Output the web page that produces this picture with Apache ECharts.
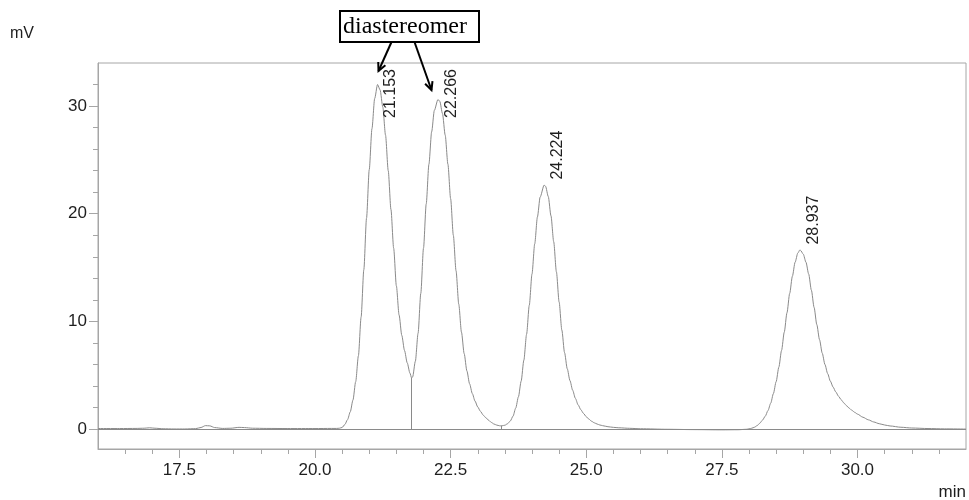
<!DOCTYPE html>
<html>
<head>
<meta charset="utf-8">
<script src="https://cdn.jsdelivr.net/npm/echarts@6/dist/echarts.min.js"></script>
<style>
  html, body { margin: 0; padding: 0; background: #fff; }
  #chart { width: 969px; height: 500px; }
</style>
</head>
<body>
<div id="chart"></div>
<script>
// Detector trace: retention time (min) and signal (mV)
const retentionTime = [
  16.00, 16.40, 16.70, 16.85, 16.95, 17.05, 17.20, 17.40, 17.60, 17.80,
  17.90, 17.98, 18.06, 18.15, 18.30, 18.45, 18.60, 18.70, 18.85, 19.10,
  19.50, 20.00, 20.30, 20.40, 20.45, 20.50, 20.55, 20.60, 20.65, 20.70,
  20.75, 20.80, 20.85, 20.90, 20.95, 21.00, 21.05, 21.10, 21.153, 21.20,
  21.25, 21.30, 21.35, 21.40, 21.45, 21.50, 21.55, 21.60, 21.65, 21.70,
  21.75, 21.78, 21.80, 21.85, 21.90, 21.95, 22.00, 22.05, 22.10, 22.15,
  22.20, 22.266, 22.30, 22.35, 22.40, 22.45, 22.50, 22.55, 22.60, 22.65,
  22.70, 22.75, 22.80, 22.85, 22.90, 22.95, 23.00, 23.05, 23.10, 23.15,
  23.20, 23.25, 23.30, 23.35, 23.40, 23.43, 23.45, 23.50, 23.55, 23.60,
  23.65, 23.70, 23.75, 23.80, 23.85, 23.90, 23.95, 24.00, 24.05, 24.10,
  24.15, 24.224, 24.25, 24.30, 24.35, 24.40, 24.45, 24.50, 24.55, 24.60,
  24.65, 24.70, 24.75, 24.80, 24.85, 24.90, 24.95, 25.00, 25.05, 25.10,
  25.15, 25.20, 25.25, 25.30, 25.40, 25.50, 25.60, 25.80, 26.00, 26.50,
  27.00, 27.50, 27.80, 27.95, 28.00, 28.05, 28.10, 28.15, 28.20, 28.25,
  28.30, 28.35, 28.40, 28.45, 28.50, 28.55, 28.60, 28.65, 28.70, 28.75,
  28.80, 28.85, 28.90, 28.937, 28.95, 29.00, 29.05, 29.10, 29.15, 29.20,
  29.25, 29.30, 29.35, 29.40, 29.45, 29.50, 29.55, 29.60, 29.65, 29.70,
  29.75, 29.80, 29.85, 29.90, 29.95, 30.00, 30.10, 30.20, 30.30, 30.40,
  30.50, 30.60, 30.80, 31.00, 31.30, 31.60, 32.00
];
const signal = [
  0.05, 0.05, 0.06, 0.08, 0.12, 0.08, 0.03, 0.01, 0.01, 0.04,
  0.15, 0.32, 0.30, 0.14, 0.06, 0.08, 0.16, 0.14, 0.08, 0.06,
  0.05, 0.05, 0.06, 0.06, 0.08, 0.15, 0.42, 0.88, 1.60, 2.70,
  4.40, 6.80, 10.4, 14.8, 19.6, 24.1, 27.9, 30.7, 32.0, 31.5,
  29.9, 27.3, 24.0, 20.4, 16.8, 13.3, 10.6, 8.7, 7.3, 6.15,
  5.2, 4.75, 4.85, 6.3, 8.9, 12.6, 16.8, 20.9, 24.6, 27.6,
  29.6, 30.6, 30.45, 29.3, 27.3, 24.6, 21.4, 18.0, 14.7, 11.6,
  9.0, 7.0, 5.4, 4.2, 3.3, 2.6, 2.05, 1.65, 1.3, 1.05,
  0.82, 0.62, 0.47, 0.37, 0.31, 0.30, 0.31, 0.36, 0.50, 0.75,
  1.20, 1.95, 3.0, 4.45, 6.4, 8.8, 11.5, 14.4, 17.2, 19.7,
  21.55, 22.66, 22.55, 21.6, 19.8, 17.4, 14.6, 11.8, 9.2, 7.1,
  5.6, 4.5, 3.6, 2.85, 2.25, 1.8, 1.45, 1.15, 0.92, 0.72,
  0.58, 0.47, 0.38, 0.32, 0.22, 0.16, 0.12, 0.07, 0.03, -0.02,
  -0.05, -0.07, -0.06, -0.02, 0.02, 0.08, 0.17, 0.32, 0.55, 0.84,
  1.20, 1.72, 2.40, 3.30, 4.40, 5.75, 7.30, 9.00, 10.8, 12.6,
  14.2, 15.5, 16.35, 16.63, 16.6, 16.25, 15.5, 14.4, 12.9, 11.3,
  9.7, 8.3, 7.05, 6.0, 5.15, 4.45, 3.9, 3.45, 3.05, 2.72,
  2.42, 2.16, 1.93, 1.73, 1.55, 1.39, 1.10, 0.86, 0.66, 0.50,
  0.38, 0.29, 0.17, 0.10, 0.05, 0.02, 0.0
];

// Integrated peaks: retention time and apex height
const peakTimes = [21.153, 22.266, 24.224, 28.937];
const peakHeights = [32.0, 30.6, 22.66, 16.63];

// Perpendicular drop lines separating the integrated peaks
const dropTimes = [21.78, 23.43];
const dropHeights = [4.75, 0.30];

// Axis ticks
const xTickValues = [17.5, 20.0, 22.5, 25.0, 27.5, 30.0];
const yTickValues = [0, 10, 20, 30];

const X_MIN = 16, X_MAX = 32, Y_MIN = -1.85, Y_MAX = 34;
const AXIS_GRAY = '#a6a6a6';
const TRACE_GRAY = '#8a8a8a';
const TEXT = '#1e1e1e';
const SANS = '"Liberation Sans", Arial, sans-serif';

const xMinor = [];
for (let v = X_MIN + 0.5; v < X_MAX; v += 0.5) {
  if (!xTickValues.some(t => Math.abs(t - v) < 1e-6)) xMinor.push(+v.toFixed(1));
}
const yMinor = [];
for (let v = 2; v < Y_MAX; v += 2) {
  if (!yTickValues.includes(v)) yMinor.push(v);
}

const chart = echarts.init(document.getElementById('chart'), null, { renderer: 'canvas' });

const trace = retentionTime.map((t, i) => [t, signal[i]]);
const dropLines = dropTimes.map((t, i) => [{ coord: [t, 0] }, { coord: [t, dropHeights[i]] }]);

chart.setOption({
  animation: false,
  backgroundColor: '#fff',
  grid: {
    left: 98, right: 3, top: 63, bottom: 51,
    show: true, borderColor: AXIS_GRAY, borderWidth: 1
  },
  xAxis: [
    {
      type: 'value', min: X_MIN, max: X_MAX,
      axisLine: { show: true, onZero: false, lineStyle: { color: AXIS_GRAY, width: 1 } },
      axisTick: { show: true, length: 9, customValues: xTickValues, lineStyle: { color: AXIS_GRAY } },
      axisLabel: {
        show: true, customValues: xTickValues, margin: 13,
        color: TEXT, fontSize: 17, fontFamily: SANS,
        formatter: v => v.toFixed(1)
      },
      splitLine: { show: false }
    },
    {
      type: 'value', min: X_MIN, max: X_MAX, position: 'bottom',
      axisLine: { show: false, onZero: false },
      axisTick: { show: true, length: 5, customValues: xMinor, lineStyle: { color: AXIS_GRAY } },
      axisLabel: { show: false },
      splitLine: { show: false }
    }
  ],
  yAxis: [
    {
      type: 'value', min: Y_MIN, max: Y_MAX,
      axisLine: { show: true, onZero: false, lineStyle: { color: AXIS_GRAY, width: 1 } },
      axisTick: { show: true, length: 9, customValues: yTickValues, lineStyle: { color: AXIS_GRAY } },
      axisLabel: {
        show: true, customValues: yTickValues, margin: 11,
        color: TEXT, fontSize: 17, fontFamily: SANS
      },
      splitLine: { show: false }
    },
    {
      type: 'value', min: Y_MIN, max: Y_MAX, position: 'left',
      axisLine: { show: false, onZero: false },
      axisTick: { show: true, length: 5, customValues: yMinor, lineStyle: { color: AXIS_GRAY } },
      axisLabel: { show: false },
      splitLine: { show: false }
    }
  ],
  series: [
    {
      type: 'line',
      xAxisIndex: 0, yAxisIndex: 0,
      data: trace,
      showSymbol: false,
      smooth: 0.25,
      smoothMonotone: 'x',
      lineStyle: { color: TRACE_GRAY, width: 1 },
      z: 3,
      markLine: {
        silent: true,
        symbol: 'none',
        label: { show: false },
        lineStyle: { color: TRACE_GRAY, width: 1, type: 'solid' },
        data: [{ yAxis: 0 }].concat(dropLines)
      }
    }
  ]
});

// Peak retention-time labels, rotated, kept inside the plot frame
const ctx = document.createElement('canvas').getContext('2d');
ctx.font = '16px ' + SANS;
const gridTop = 63;
const graphics = [];
peakTimes.forEach((t, i) => {
  const p = chart.convertToPixel({ xAxisIndex: 0, yAxisIndex: 0 }, [t, peakHeights[i]]);
  const txt = t.toFixed(3);
  const len = ctx.measureText(txt).width;
  let start = p[1] - 5.5;
  if (start - len < gridTop + 6) start = gridTop + 6 + len;
  graphics.push({
    type: 'text',
    x: p[0] + 13.5, y: start,
    rotation: Math.PI / 2,
    style: {
      text: txt, fill: TEXT, font: '16px ' + SANS,
      textAlign: 'left', textVerticalAlign: 'middle'
    },
    z: 10
  });
});

// Arrow helper: shaft plus open V head
function arrow(x1, y1, x2, y2) {
  const ang = Math.atan2(y2 - y1, x2 - x1);
  const L = 9, spread = 0.45;
  const a = [x2 - L * Math.cos(ang - spread), y2 - L * Math.sin(ang - spread)];
  const b = [x2 - L * Math.cos(ang + spread), y2 - L * Math.sin(ang + spread)];
  return [
    { type: 'line', shape: { x1, y1, x2, y2 }, style: { stroke: '#000', lineWidth: 2 }, z: 12 },
    { type: 'polyline', shape: { points: [a, [x2, y2], b] }, style: { stroke: '#000', lineWidth: 2, fill: null }, z: 12 }
  ];
}

graphics.push(
  { type: 'text', x: 10, y: 34, style: { text: 'mV', fill: TEXT, font: '16px ' + SANS, textAlign: 'left', textVerticalAlign: 'middle' } },
  { type: 'text', x: 966, y: 492, style: { text: 'min', fill: TEXT, font: '17px ' + SANS, textAlign: 'right', textVerticalAlign: 'middle' } },
  { type: 'rect', shape: { x: 340, y: 11, width: 139, height: 31 }, style: { fill: '#fff', stroke: '#000', lineWidth: 2 }, z: 11 },
  { type: 'text', x: 405, y: 26.5, style: { text: 'diastereomer', fill: '#000', font: '24px "Liberation Serif", "Times New Roman", serif', textAlign: 'center', textVerticalAlign: 'middle' }, z: 12 },
  ...arrow(391.5, 42, 378.5, 71),
  ...arrow(414.5, 42, 431.5, 90)
);

chart.setOption({ graphic: graphics });
</script>
</body>
</html>
